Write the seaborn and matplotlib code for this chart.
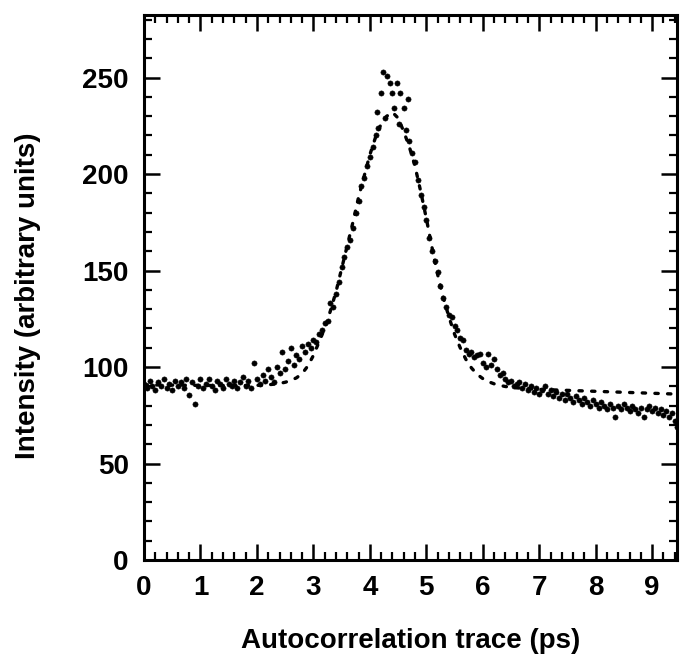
import matplotlib
matplotlib.use("Agg")
import matplotlib.pyplot as plt
from matplotlib.ticker import MultipleLocator
import seaborn as sns
import pandas as pd

# ---- data ----
data_x = [0.00, 0.05, 0.10, 0.15, 0.20, 0.25, 0.30, 0.35, 0.40, 0.45,
          0.50, 0.55, 0.60, 0.65, 0.70, 0.75, 0.80, 0.85, 0.90, 0.95,
          1.00, 1.05, 1.10, 1.15, 1.20, 1.25, 1.30, 1.35, 1.40, 1.45,
          1.50, 1.55, 1.60, 1.65, 1.70, 1.75, 1.80, 1.85, 1.90, 1.95,
          2.00, 2.05, 2.10, 2.15, 2.20, 2.25, 2.30, 2.35, 2.40, 2.45,
          2.50, 2.55, 2.60, 2.65, 2.70, 2.75, 2.80, 2.85, 2.90, 2.95,
          3.00, 3.05, 3.10, 3.15, 3.20, 3.25, 3.30, 3.35, 3.40, 3.45,
          3.50, 3.55, 3.60, 3.65, 3.70, 3.75, 3.80, 3.85, 3.90, 3.95,
          4.00, 4.05, 4.10, 4.12, 4.15, 4.20, 4.24, 4.27, 4.31, 4.36,
          4.40, 4.43, 4.48, 4.52, 4.54, 4.61, 4.64, 4.68, 4.70, 4.75,
          4.80, 4.85, 4.90, 4.95, 5.00, 5.05, 5.10, 5.15, 5.20, 5.25,
          5.30, 5.35, 5.40, 5.45, 5.50, 5.55, 5.60, 5.65, 5.70, 5.75,
          5.80, 5.85, 5.90, 5.95, 6.00, 6.05, 6.10, 6.15, 6.20, 6.25,
          6.30, 6.35, 6.40, 6.45, 6.50, 6.55, 6.60, 6.65, 6.70, 6.75,
          6.80, 6.85, 6.90, 6.95, 7.00, 7.05, 7.10, 7.15, 7.20, 7.25,
          7.30, 7.35, 7.40, 7.45, 7.50, 7.55, 7.60, 7.65, 7.70, 7.75,
          7.80, 7.85, 7.90, 7.95, 8.00, 8.05, 8.10, 8.15, 8.20, 8.25,
          8.30, 8.35, 8.40, 8.45, 8.50, 8.55, 8.60, 8.65, 8.70, 8.75,
          8.80, 8.85, 8.90, 8.95, 9.00, 9.05, 9.10, 9.15, 9.20, 9.25,
          9.30, 9.35, 9.40, 9.44]
data_y = [91, 89, 93, 90, 88, 92, 90, 94, 89, 91,
          88, 93, 90, 92, 89, 94, 85.5, 92, 81, 90,
          94, 89, 91, 94, 90, 88, 93, 91, 89, 94,
          91, 90, 93, 89, 92, 95, 90, 93, 89, 102,
          94, 91, 96, 93, 99, 95, 92, 100, 97, 108,
          99, 103, 110, 101, 106, 104, 111, 108, 112, 110,
          114, 113, 117, 119, 123, 124, 133, 131, 138, 144,
          152, 157, 162, 166, 172, 180, 186, 194, 198, 204,
          209, 214, 220, 232, 224, 242, 253, 229, 251, 247,
          242, 234, 247, 226, 242, 234, 223, 239, 217, 211,
          206, 197, 189, 183, 176, 167, 160, 155, 149, 142,
          136, 131, 127, 126, 121, 119, 115, 114, 109, 107,
          108, 105, 106, 107, 102, 100, 107, 101, 104, 99,
          96, 97, 94, 92, 93, 90, 91, 92, 89, 91,
          88, 90, 87, 89, 86, 88, 90, 86, 88, 85,
          87, 84, 86, 83, 86, 84, 82, 85, 83, 81,
          84, 82, 80, 83, 81, 79, 82, 80, 78, 81,
          79, 74, 80, 78, 81, 79, 77, 80, 78, 76,
          79, 74, 78, 80, 77, 79, 76, 78, 75, 77,
          74, 76, 72, 69]

fit_x = [0.0, 0.1, 0.2, 0.3, 0.4, 0.5, 0.6, 0.7, 0.8, 0.9,
         1.0, 1.1, 1.2, 1.3, 1.4, 1.5, 1.6, 1.7, 1.8, 1.9,
         2.0, 2.1, 2.2, 2.3, 2.4, 2.5, 2.6, 2.7, 2.8, 2.9,
         3.0, 3.1, 3.2, 3.3, 3.4, 3.5, 3.6, 3.7, 3.8, 3.9,
         4.0, 4.1, 4.2, 4.3, 4.4, 4.5, 4.6, 4.7, 4.8, 4.9,
         5.0, 5.1, 5.2, 5.3, 5.4, 5.5, 5.6, 5.7, 5.8, 5.9,
         6.0, 6.1, 6.2, 6.3, 6.4, 6.5, 6.6, 6.7, 6.8, 6.9,
         7.0, 7.1, 7.2, 7.3, 7.4, 7.5, 7.6, 7.7, 7.8, 7.9,
         8.0, 8.1, 8.2, 8.3, 8.4, 8.5, 8.6, 8.7, 8.8, 8.9,
         9.0, 9.1, 9.2, 9.3, 9.4]
fit_y = [90.8, 90.8, 90.7, 90.7, 90.7, 90.6, 90.6, 90.6, 90.5, 90.5,
         90.5, 90.5, 90.4, 90.4, 90.4, 90.4, 90.4, 90.4, 90.4, 90.5,
         90.5, 90.6, 90.8, 91.1, 91.5, 92.1, 93.0, 94.4, 96.6, 100.5,
         106, 113, 120, 129, 139, 151, 163, 175, 188, 199,
         210, 219, 226, 230, 232, 229, 222, 214, 204, 191,
         177, 162, 148, 136, 126, 117, 110, 104, 99.5, 96.2,
         94.0, 92.4, 91.3, 90.5, 89.9, 89.5, 89.2, 89.0, 88.8, 88.6,
         88.4, 88.3, 88.2, 88.1, 88.0, 87.9, 87.8, 87.7, 87.6, 87.5,
         87.4, 87.3, 87.2, 87.1, 87.0, 86.9, 86.8, 86.7, 86.6, 86.5,
         86.4, 86.3, 86.2, 86.1, 86.0]

x_ticks = [0, 1, 2, 3, 4, 5, 6, 7, 8, 9]
y_ticks = [0, 50, 100, 150, 200, 250]
x_label = "Autocorrelation trace (ps)"
y_label = "Intensity (arbitrary units)"

# ---- style ----
sns.set_style("ticks")
plt.rcParams['font.family'] = ['Liberation Sans', 'DejaVu Sans']
plt.rcParams['font.weight'] = 'bold'
for key in ['text.color', 'axes.labelcolor', 'xtick.color', 'ytick.color',
            'axes.edgecolor', 'xtick.labelcolor', 'ytick.labelcolor']:
    plt.rcParams[key] = 'black'

fig = plt.figure(figsize=(6.8, 6.61), dpi=100, facecolor='white')
ax = fig.add_axes([0.2118, 0.1528, 0.7838, 0.8245])

df_data = pd.DataFrame({"x": data_x, "y": data_y})
df_fit = pd.DataFrame({"x": fit_x, "y": fit_y})

sns.lineplot(data=df_fit, x="x", y="y", ax=ax, color="black", linewidth=2.4,
             linestyle=(0, (1.0, 2.8)), dash_capstyle='round', sort=True)
sns.scatterplot(data=df_data, x="x", y="y", ax=ax, color="black", s=14,
                edgecolor="black", linewidth=0.4, zorder=3)

ax.set_xlim(0, 9.44)
ax.set_ylim(0, 282.4)
ax.set_xticks(x_ticks)
ax.set_yticks(y_ticks)
ax.xaxis.set_minor_locator(MultipleLocator(0.2))
ax.yaxis.set_minor_locator(MultipleLocator(10))

ax.tick_params(which='both', direction='in', top=True, right=True,
               labelsize=20, pad=11, width=1.8, color='black',
               labelcolor='black')
ax.tick_params(which='major', length=11.5)
ax.tick_params(which='minor', length=5.5, width=1.6)
for lab in ax.get_xticklabels() + ax.get_yticklabels():
    lab.set_fontweight('bold')

for sp in ax.spines.values():
    sp.set_linewidth(2.2)
    sp.set_color('black')
    sp.set_visible(True)

ax.set_xlabel(x_label, fontsize=20, fontweight='bold', color='black')
ax.set_ylabel(y_label, fontsize=20, fontweight='bold', color='black')
ax.xaxis.set_label_coords(0.5, -0.125)
ax.yaxis.set_label_coords(-0.193, 0.484)

fig.savefig("out.png", dpi=100, facecolor='white')
